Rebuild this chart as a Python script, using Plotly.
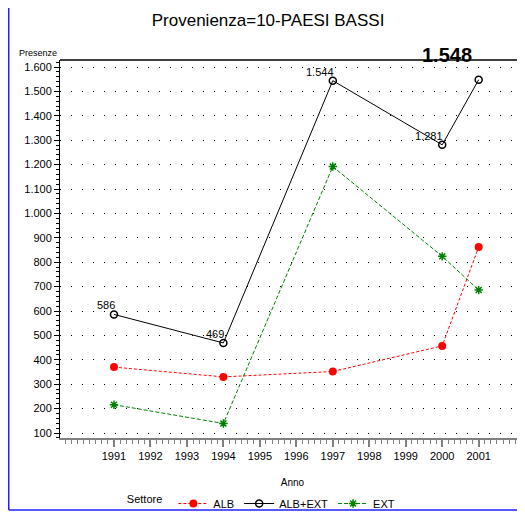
import plotly.graph_objects as go

years = [1991, 1994, 1997, 2000, 2001]
alb = [370, 330, 352, 457, 862]
ext = [216, 139, 1192, 824, 686]
alb_ext = [586, 469, 1544, 1281, 1548]
series_names = ["ALB", "ALB+EXT", "EXT"]
title_text = "Provenienza=10-PAESI BASSI"
y_ticks = list(range(100, 1700, 100))
x_ticks = list(range(1991, 2002))

NARROW = "Liberation Sans Narrow, Arial Narrow, Liberation Sans, Arial"

def fmt(v):
    return f"{v:,}".replace(",", ".")

fig = go.Figure()

fig.add_trace(go.Scatter(
    x=years, y=alb, name=series_names[0], mode="lines+markers",
    line=dict(color="#ff0000", width=1, dash="3px,2px"),
    marker=dict(symbol="circle", size=8, color="#ff0000"),
))
fig.add_trace(go.Scatter(
    x=years, y=alb_ext, name=series_names[1], mode="lines+markers",
    line=dict(color="#000000", width=1),
    marker=dict(symbol="circle-open", size=7, color="#000000", line=dict(width=1.5)),
))
fig.add_trace(go.Scatter(
    x=years, y=ext, name=series_names[2], mode="lines+markers",
    line=dict(color="#008000", width=1, dash="4px,2px"),
    marker=dict(symbol="asterisk-open", size=7, color="#008000", line=dict(width=1.5, color="#008000")),
))

# Value labels for ALB+EXT
for xv, yv in zip(years[:-1], alb_ext[:-1]):
    fig.add_annotation(x=xv, y=yv, xref="x", yref="y", text=fmt(yv), showarrow=False,
                       xanchor="right", yanchor="bottom", xshift=3, yshift=1,
                       font=dict(family=NARROW, size=11, color="#000000"))

# Large label of last point
fig.add_annotation(
    x=years[-1], y=alb_ext[-1], xref="x", yref="y",
    text="<b>" + fmt(alb_ext[-1]) + "</b>", showarrow=False,
    xanchor="right", yanchor="middle", xshift=-5, yshift=25,
    font=dict(family=NARROW, size=20, color="#000000"),
)

# page has an 8px body margin; figure sized so the plot area lands at x 60-525, y 60-438
W, H = 517, 509
PW, PH = 465, 378
bx = (0.75 - 52) / PW
by = (430 - 502) / PH
shapes = [
    dict(type="line", xref="paper", yref="paper", x0=0, x1=1, y0=1, y1=1,
         line=dict(color="#000000", width=1.5)),
    dict(type="line", xref="paper", yref="paper",
         x0=bx, x1=bx, y0=1.2, y1=by,
         line=dict(color="#2020ff", width=1.5)),
    dict(type="line", xref="paper", yref="paper",
         x0=bx, x1=1.01, y0=by, y1=by,
         line=dict(color="#2020ff", width=1.5)),
]
fig.update_layout(shapes=shapes)

fig.update_layout(
    width=W, height=H,
    margin=dict(l=52, r=0, t=52, b=79, autoexpand=False),
    paper_bgcolor="#ffffff", plot_bgcolor="#ffffff",
    separators=",.",
    title=dict(text=title_text, x=0.503, xanchor="center", xref="container",
               y=0.976, yanchor="middle", yref="container",
               font=dict(family="Liberation Sans, Arial", size=17, color="#000000")),
    showlegend=True,
    legend=dict(orientation="h", x=0.226, xanchor="left", xref="container",
                y=0.0265, yanchor="middle", yref="container",
                title=dict(text="Settore ", side="left",
                           font=dict(family=NARROW, size=11, color="#000000")),
                font=dict(family=NARROW, size=11, color="#000000"),
                itemwidth=30, tracegroupgap=0, bgcolor="rgba(0,0,0,0)"),
    font=dict(family=NARROW, size=11, color="#000000"),
)

fig.update_xaxes(
    range=[1989.52, 2002.27], tickvals=x_ticks, tickformat="d", automargin=False,
    ticks="outside", ticklen=7, tickwidth=1.5, tickcolor="#808080",
    minor=dict(dtick=1 / 6, ticks="outside", ticklen=4, tickcolor="#808080", tickwidth=1),
    showline=True, linecolor="#808080", linewidth=2,
    showgrid=False, zeroline=False,
    tickfont=dict(family=NARROW, size=11, color="#000000"),
    title=dict(text="Anno", font=dict(family=NARROW, size=10, color="#000000"), standoff=18),
)
fig.update_yaxes(
    range=[79.5, 1628.7], tickvals=y_ticks, tickformat=",d", automargin=False,
    ticks="outside", ticklen=5, tickcolor="#000000",
    minor=dict(dtick=20, ticks="outside", ticklen=3, tickcolor="#000000"),
    showline=True, linecolor="#000000", linewidth=1,
    showgrid=True, gridcolor="#000000", gridwidth=1, griddash="1px,10px",
    zeroline=False,
    tickfont=dict(family=NARROW, size=11, color="#000000"),
)

fig.add_annotation(x=0, xref="paper", xanchor="right", xshift=-1,
                   y=1, yref="paper", yanchor="bottom", yshift=0,
                   text="Presenze", showarrow=False,
                   font=dict(family=NARROW, size=9, color="#000000"))

fig.write_html("out.html")
